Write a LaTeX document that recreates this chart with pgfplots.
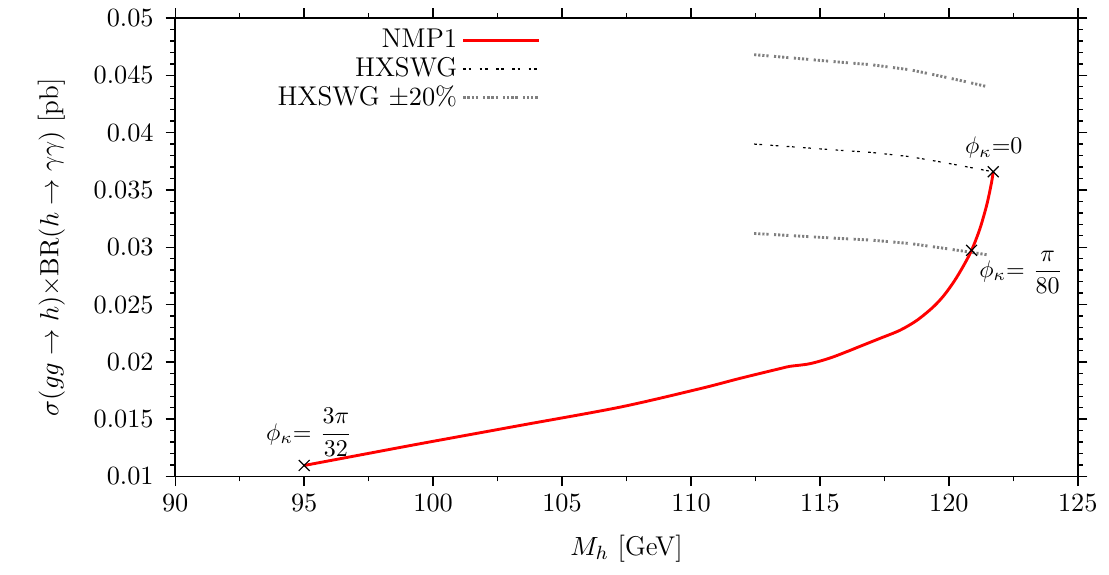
\documentclass[border=0pt]{standalone}
\usepackage{pgfplots}
\pgfplotsset{compat=1.18}
\begin{document}
\begin{tikzpicture}
\begin{axis}[
  name=ax,
  scale only axis,
  width=376pt, height=191pt,
  xmin=90, xmax=125, ymin=0.01, ymax=0.05,
  xtick={90,95,...,125},
  ytick={0.01,0.015,...,0.0501},
  minor x tick num=1,
  minor y tick num=4,
  tick align=outside,
  scaled y ticks=false,
  yticklabel style={/pgf/number format/fixed,/pgf/number format/precision=3,xshift=-1.5pt},
  font=\fontsize{11.3}{13.5}\selectfont,
  axis line style={line width=0.7pt},
  every tick/.style={line width=0.6pt, black},
  major tick length=4pt, minor tick length=2pt,
  xlabel={$M_h$ [GeV]},
  ylabel={$\sigma(gg\to h){\times}\mathrm{BR}(h\to\gamma\gamma)$ [pb]},
  xlabel style={yshift=-3pt},
  ylabel style={yshift=5pt},
  legend style={at={(rel axis cs:0.0997,0.997)},anchor=north west,draw=none,fill=none,font=\fontsize{11.3}{13.5}\selectfont,row sep=-1.5pt},
  legend cell align=right,
  legend plot pos=right,
  legend image code/.code={\draw[#1] (0.33cm,0cm) -- (1.43cm,0cm);},
  clip=false,
]
\addplot[red, line width=1.2pt, smooth, tension=0.5] coordinates {
(95.0,0.01096) (97.25,0.01191) (99.50,0.01286) (103.37,0.01445) (107.25,0.01605)
(110.35,0.01766) (111.90,0.01856) (113.45,0.01941) (113.84,0.01961) (114.61,0.01984)
(115.50,0.02042) (116.82,0.02159) (117.33,0.02205) (118.10,0.02275) (118.76,0.02362)
(119.38,0.02476) (119.80,0.02577) (120.20,0.02701) (120.55,0.02831) (120.88,0.02973)
(121.20,0.03159) (121.47,0.03370) (121.65,0.03559) (121.72,0.03658)
};
\addlegendentry{NMP1}
\addplot[black, line width=0.5pt, dash pattern=on 1.1pt off 1.1pt on 1.1pt off 3.5pt] coordinates {
(112.45,0.0390) (114.0,0.03875) (115.5,0.0385) (117.0,0.03827) (118.5,0.0379)
(119.65,0.03745) (120.5,0.0371) (121.2,0.0368) (121.72,0.03658)
};
\addlegendentry{HXSWG}
\addplot[gray, line width=1.2pt, dash pattern=on 0.9pt off 0.8pt on 0.9pt off 0.8pt on 0.9pt off 0.8pt on 0.9pt off 2.3pt] coordinates {
(112.45,0.04680) (114.0,0.04650) (115.5,0.04620) (117.0,0.04592) (118.5,0.04548)
(119.65,0.04494) (120.5,0.04452) (121.2,0.04416) (121.6,0.04395)
};
\addlegendentry{HXSWG $\pm20\%$}
\addplot[gray, line width=1.2pt, dash pattern=on 0.9pt off 0.8pt on 0.9pt off 0.8pt on 0.9pt off 0.8pt on 0.9pt off 2.3pt, forget plot] coordinates {
(112.45,0.03120) (114.0,0.03100) (115.5,0.03080) (117.0,0.03062) (118.5,0.03032)
(119.65,0.02996) (120.5,0.02968) (121.2,0.02944) (121.6,0.02930)
};
\addplot[only marks, mark=x, mark size=3.2pt, black, line width=0.5pt, forget plot] coordinates {
(95.0,0.01096) (121.72,0.03658) (120.88,0.02973)
};
\node[font=\fontsize{10}{12}\selectfont] at (axis cs:121.74,0.0387) {$\phi_\kappa$=0};
\node[font=\fontsize{10}{12}\selectfont, anchor=west] at (axis cs:120.85,0.02782) {$\phi_\kappa$= ${\displaystyle\frac{\pi}{80}}$};
\node[font=\fontsize{10}{12}\selectfont, anchor=west] at (axis cs:93.2,0.01384) {$\phi_\kappa$= ${\displaystyle\frac{3\pi}{32}}$};
\end{axis}
\path ([xshift=-73pt,yshift=-41pt]ax.south west) rectangle ([xshift=13pt,yshift=7.5pt]ax.north east);
\end{tikzpicture}
\end{document}
